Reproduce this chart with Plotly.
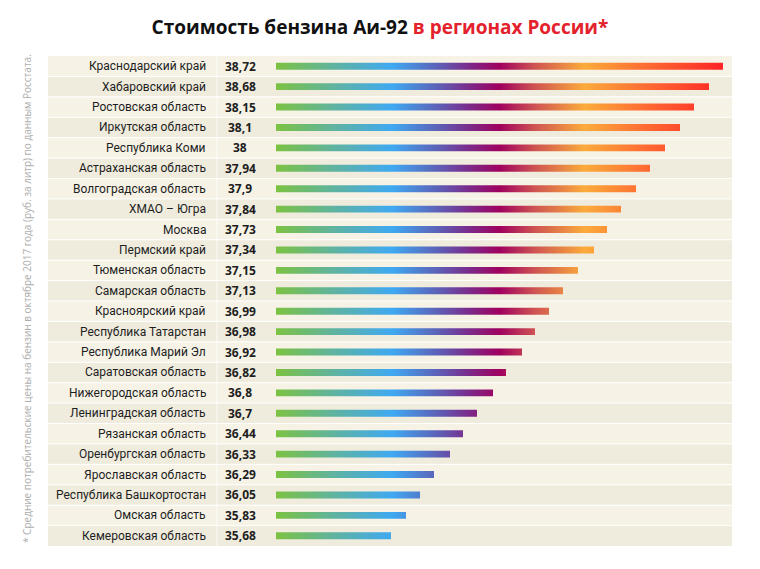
import plotly.graph_objects as go

regions = [
    "Краснодарский край", "Хабаровский край", "Ростовская область", "Иркутская область",
    "Республика Коми", "Астраханская область", "Волгоградская область", "ХМАО – Югра",
    "Москва", "Пермский край", "Тюменская область", "Самарская область",
    "Красноярский край", "Республика Татарстан", "Республика Марий Эл", "Саратовская область",
    "Нижегородская область", "Ленинградская область", "Рязанская область", "Оренбургская область",
    "Ярославская область", "Республика Башкортостан", "Омская область", "Кемеровская область",
]
prices = [38.72, 38.68, 38.15, 38.1, 38.0, 37.94, 37.9, 37.84, 37.73, 37.34, 37.15, 37.13,
          36.99, 36.98, 36.92, 36.82, 36.8, 36.7, 36.44, 36.33, 36.29, 36.05, 35.83, 35.68]
# bar lengths as drawn in the original (rank-style scale)
bar_lengths = [447, 433, 418, 404, 389, 374, 360, 345, 331, 318, 302, 287,
               273, 259, 246, 230, 217, 201, 187, 174, 158, 144, 130, 115]

title_black = "Стоимость бензина Аи-92 "
title_red = "в регионах России*"
footnote = "* Средние потребительские цены на бензин в октябре 2017 года (руб. за литр) по данным Росстата."

gradient = [
    [0.00, "#7cc242"],
    [0.13, "#5fb3a0"],
    [0.26, "#3fa9f2"],
    [0.36, "#5c62b8"],
    [0.43, "#7a2c8c"],
    [0.50, "#a0015f"],
    [0.58, "#cf5552"],
    [0.69, "#fbab3b"],
    [0.83, "#fe6a32"],
    [1.00, "#ff2526"],
]

fig = go.Figure()
half = 0.171
gmax = max(bar_lengths)
for i, L in enumerate(bar_lengths):
    fig.add_trace(go.Scatter(
        x=[0, L, L, 0, 0],
        y=[i - half, i - half, i + half, i + half, i - half],
        mode="lines", fill="toself",
        line=dict(width=0, color="rgba(0,0,0,0)"),
        fillgradient=dict(type="horizontal", colorscale=gradient, start=0, stop=gmax),
        hoverinfo="skip", showlegend=False,
    ))

shapes = []
n = len(regions)
for i in range(n):
    shapes.append(dict(type="rect", xref="paper", yref="y", x0=0, x1=1, y0=i - 0.5, y1=i + 0.5,
                       fillcolor="#efecdd" if i % 2 else "#f6f3e6", line=dict(width=0), layer="below"))
for i in range(n - 1):
    shapes.append(dict(type="line", xref="paper", yref="y", x0=0, x1=1, y0=i + 0.5, y1=i + 0.5,
                       line=dict(color="white", width=1), layer="below"))
shapes.append(dict(type="line", xref="x", yref="paper", x0=-59, x1=-59, y0=0, y1=1,
                   line=dict(color="rgba(255,255,255,0.8)", width=1), layer="below"))

annotations = []
for i, (r, p) in enumerate(zip(regions, prices)):
    annotations.append(dict(x=-68, y=i, xref="x", yref="y", text=r, showarrow=False,
                            xanchor="right", yanchor="middle",
                            font=dict(family="Roboto", size=12, color="#1e1e1e")))
    annotations.append(dict(x=-36, y=i, xref="x", yref="y", text="<b>" + f"{p:g}".replace(".", ",") + "</b>",
                            showarrow=False, xanchor="center", yanchor="middle",
                            font=dict(family="Open Sans", size=12, color="#1e1e1e")))
annotations.append(dict(x=(27 - 48) / 684, y=(546 - 299) / 490, xref="paper", yref="paper",
                        text=footnote, showarrow=False, xanchor="center", yanchor="middle",
                        textangle=-90, font=dict(family="Open Sans", size=10, color="#adadad")))

fig.update_layout(
    width=752, height=561,
    margin=dict(l=40, r=28, t=48, b=23),
    paper_bgcolor="white", plot_bgcolor="white",
    title=dict(text="<b>" + title_black + "<span style='color:#e3222d'>" + title_red + "</span></b>",
               x=(380 - 8) / 752, xanchor="center", y=1 - 19 / 561, yanchor="middle",
               font=dict(family="Open Sans", size=19, color="#111111")),
    xaxis=dict(range=[-228, 456], visible=False, fixedrange=True),
    yaxis=dict(range=[n - 0.5, -0.5], visible=False, fixedrange=True),
    shapes=shapes, annotations=annotations,
)

fig.write_html("out.html")
